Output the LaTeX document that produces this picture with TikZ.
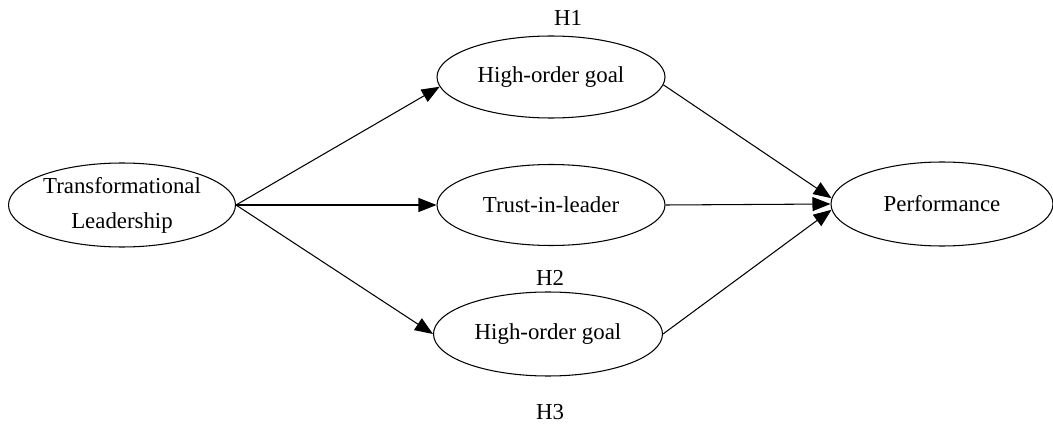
\documentclass[tikz,border=0pt]{standalone}
\usepackage{fontspec}
\setmainfont{Liberation Serif}
\usetikzlibrary{arrows.meta,shapes.geometric}
\tikzset{
    ell/.style={draw, ellipse, line width=0.6pt, inner sep=0pt, minimum width=4.56cm, minimum height=1.64cm, align=center, font=\fontsize{13}{20}\selectfont},
    hyp/.style={font=\fontsize{13}{15}\selectfont},
    arr/.style={line width=0.6pt, -{Triangle[length=0.36cm, width=0.28cm]}}
}
\begin{document}
\begin{tikzpicture}
        \useasboundingbox (0,0) rectangle (21.06,8.48);
        \node [ell, minimum height=1.68cm, minimum width=4.54cm] (lead) at (2.44,4.38) {Transformational\\Leadership};
        \node [ell] (goalA) at (11.02,6.94) {High-order goal};
        \node [ell, minimum height=1.62cm] (trust) at (11.02,4.38) {Trust-in-leader};
        \node [ell, minimum width=4.58cm, minimum height=1.68cm] (goalB) at (10.96,1.80) {High-order goal};
        \node [ell, minimum width=4.44cm, minimum height=1.68cm] (perf) at (18.84,4.40) {Performance};
        \node [hyp] (hA) at (11.36,8.12) {H1};
        \node [hyp] (hB) at (11.0,2.92) {H2};
        \node [hyp] (hC) at (11.0,0.24) {H3};

        \draw [arr] (lead.east) -- (goalA.185);
        \draw [arr] (lead.east) -- (trust.west);
        \draw [arr] (lead.east) -- (goalB.west);
        \draw [arr] (goalA.-4) -- (perf.177);
        \draw [arr] (trust.east) -- (perf.west);
        \draw [arr] (goalB.east) -- (perf.183);
    \end{tikzpicture}
\end{document}
